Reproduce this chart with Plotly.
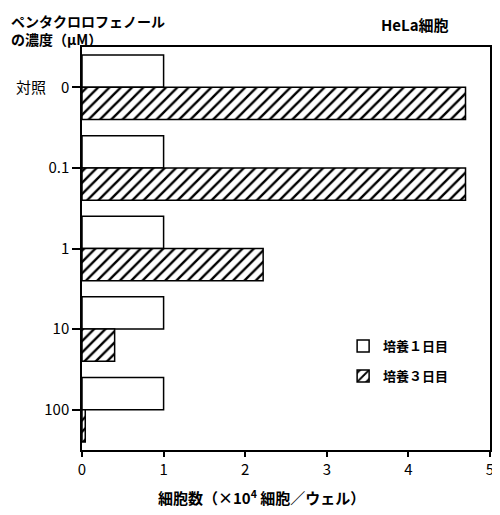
import plotly.graph_objects as go

categories = ["0", "0.1", "1", "10", "100"]
tick_labels = ["対照　0", "0.1", "1", "10", "100"]
day1_values = [1.0, 1.0, 1.0, 1.0, 1.0]
day3_values = [4.7, 4.7, 2.22, 0.4, 0.04]
series_names = ["培養１日目", "培養３日目"]

FONT = "Noto Sans CJK JP"

fig = go.Figure()
fig.add_trace(go.Bar(
    y=categories, x=day1_values, orientation="h", name=series_names[0],
    legendgroup="a",
    marker=dict(color="white", line=dict(color="black", width=1.5)),
))
fig.add_trace(go.Bar(
    y=categories, x=day3_values, orientation="h", name=series_names[1],
    legendgroup="b",
    marker=dict(color="white", line=dict(color="black", width=1.5),
                pattern=dict(shape="/", fgcolor="black", bgcolor="white",
                             fgopacity=1, size=8, solidity=0.3)),
))

fig.update_layout(
    width=492, height=507,
    margin=dict(l=74, r=10, t=39, b=65, autoexpand=False),
    paper_bgcolor="white", plot_bgcolor="white",
    barmode="group", bargap=0.2, bargroupgap=0,
    font=dict(family=FONT, size=14, color="black"),
    showlegend=True,
    legend=dict(x=0.64, y=0.295, xanchor="left", yanchor="top",
                bgcolor="rgba(0,0,0,0)", tracegroupgap=10,
                font=dict(size=13, weight=600)),
    xaxis=dict(range=[0, 5], tickvals=[0, 1, 2, 3, 4, 5], automargin=False,
               showline=True, linecolor="black", linewidth=1.5, mirror=True,
               ticks="outside", ticklen=5, tickcolor="black", tickwidth=1.5,
               showgrid=False, zeroline=False, tickfont=dict(size=15)),
    yaxis=dict(autorange="reversed", type="category", automargin=False,
               tickvals=categories, ticktext=tick_labels,
               showline=True, linecolor="black", linewidth=1.5, mirror=True,
               ticks="outside", ticklen=8, tickcolor="black", tickwidth=1.5,
               showgrid=False, zeroline=False, tickfont=dict(size=15)),
    annotations=[
        dict(text="ペンタクロロフェノール<br>の濃度（μM）", xref="paper", yref="paper",
             x=-0.178, y=1.095, xanchor="left", yanchor="top", showarrow=False,
             align="left", font=dict(size=14, weight=600)),
        dict(text="HeLa細胞", xref="paper", yref="paper",
             x=0.815, y=1.055, xanchor="center", yanchor="middle", showarrow=False,
             font=dict(size=15, weight=600)),
        dict(text="細胞数（×10<sup>4</sup> 細胞／ウェル）", xref="paper", yref="paper",
             x=0.44, y=-0.085, xanchor="center", yanchor="top", showarrow=False,
             font=dict(size=15, weight=600)),
    ],
)

fig.write_html("out.html")
